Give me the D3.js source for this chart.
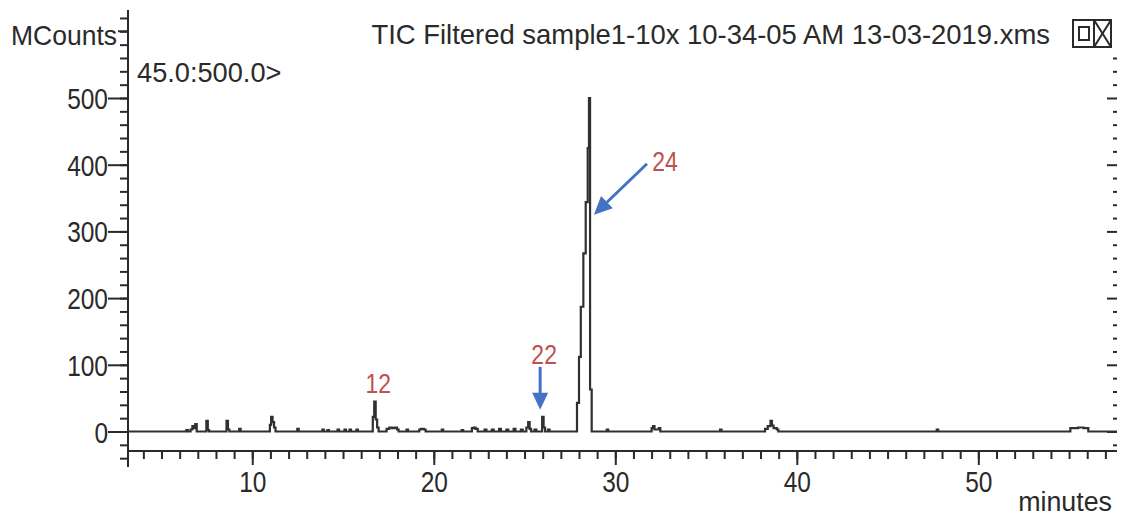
<!DOCTYPE html>
<html>
<head>
<meta charset="utf-8">
<script src="https://cdn.jsdelivr.net/npm/d3@7"></script>
<style>
  html, body { margin: 0; padding: 0; background: #ffffff; }
  svg { display: block; font-family: "Liberation Sans", Arial, sans-serif; }
</style>
</head>
<body>
<svg id="chart" width="1123" height="516"></svg>
<script>
// Total ion chromatogram: retention time (minutes) and intensity (MCounts)
const rtMinutes = [
  3.15, 6.37, 6.45, 6.60, 6.70, 6.78, 6.86, 6.94, 7.47, 7.55, 7.62,
  8.58, 8.66, 8.74, 9.28, 9.36, 10.97, 11.04, 11.12, 11.20, 11.28,
  12.48, 12.56, 13.86, 13.94, 14.14, 14.22, 14.70, 14.78, 15.08, 15.16,
  15.36, 15.44, 15.74, 15.82, 16.64, 16.72, 16.80, 16.88, 16.96,
  17.40, 17.55, 17.70, 17.85, 17.98, 18.06, 18.50, 18.58,
  19.20, 19.30, 19.45, 19.55, 20.44, 20.52, 21.54, 21.62,
  22.10, 22.20, 22.30, 22.42, 22.80, 22.90, 23.20, 23.30, 23.60, 23.70,
  24.00, 24.10, 24.40, 24.50, 24.80, 24.90, 25.10, 25.20, 25.28, 25.36,
  25.55, 25.65, 25.97, 26.05, 26.13, 26.30, 26.38,
  27.89, 28.00, 28.10, 28.24, 28.37, 28.48, 28.55, 28.61, 28.70,
  29.53, 29.61, 32.00, 32.08, 32.16, 32.40, 32.48, 35.77, 35.85,
  38.25, 38.40, 38.55, 38.63, 38.72, 38.90, 38.98, 47.71, 47.79,
  55.07, 55.50, 55.80, 56.06, 57.64
];
const mcounts = [
  0, 2, 0, 3, 8, 5, 11, 0, 16, 2, 0,
  16, 3, 0, 4, 0, 10, 22, 14, 6, 0,
  4, 0, 3, 0, 2, 0, 3, 0, 3, 0,
  3, 0, 3, 0, 22, 45, 18, 6, 0,
  4, 6, 5, 6, 3, 0, 3, 0,
  3, 4, 3, 0, 3, 0, 2, 0,
  5, 6, 4, 0, 3, 0, 3, 0, 4, 0,
  3, 0, 4, 0, 3, 0, 6, 14, 4, 0,
  3, 0, 22, 6, 0, 3, 0,
  43, 112, 187, 267, 344, 425, 500, 63, 0,
  3, 0, 5, 8, 3, 5, 0, 3, 0,
  4, 8, 16, 9, 5, 3, 0, 3, 0,
  5, 6, 5, 0, 0
];

// Axis ticks
const yMajorTicks = [0, 100, 200, 300, 400, 500];
const yMinorTicks = d3.range(-40, 621, 20);
const yRightTicks = d3.range(-20, 561, 20);
const xMajorTicks = [10, 20, 30, 40, 50];
const xMinorTicks = d3.range(4, 58, 1);

// Text
const titleText = "TIC Filtered sample1-10x 10-34-05 AM 13-03-2019.xms";
const yUnitLabel = "MCounts";
const xUnitLabel = "minutes";
const massRange = "45.0:500.0>";

// Annotated peaks
const peakIds = ["12", "22", "24"];
const peakRt = [16.72, 25.97, 28.55];
const peakLevel = [45, 22, 325];

const svg = d3.select("#chart");
const ink = "#2a2a2a";
const red = "#c0504d";
const blue = "#4472c4";

const x = d3.scaleLinear().domain([3.154, 57.64]).range([128, 1117]);
const y = d3.scaleLinear().domain([0, 500]).range([431.5, 98]);

// Left vertical axis line
svg.append("line")
  .attr("x1", x.range()[0]).attr("x2", x.range()[0])
  .attr("y1", 10).attr("y2", 467)
  .attr("stroke", ink).attr("stroke-width", 2);

// Left axis: minor ticks
const leftMinor = svg.append("g")
  .attr("transform", `translate(${x.range()[0]},0)`)
  .call(d3.axisLeft(y).tickValues(yMinorTicks).tickSize(8).tickFormat(""));
leftMinor.select(".domain").remove();
leftMinor.selectAll("line").attr("stroke", ink).attr("stroke-width", 2);

// Left axis: major ticks with labels
const leftMajor = svg.append("g")
  .attr("transform", `translate(${x.range()[0]},0)`)
  .call(d3.axisLeft(y).tickValues(yMajorTicks).tickSize(20).tickPadding(0));
leftMajor.select(".domain").remove();
leftMajor.selectAll("line").attr("stroke", ink).attr("stroke-width", 2);
leftMajor.selectAll("text")
  .attr("x", null).attr("dy", null)
  .attr("transform", "translate(-20,10.5) scale(1,1.2)")
  .attr("text-anchor", "end")
  .attr("fill", ink)
  .style("font-size", "24.5px")
  .style("font-family", "Liberation Sans, Arial, sans-serif");

// Short unlabeled tick beside the unit label
svg.append("line")
  .attr("x1", x.range()[0] - 10).attr("x2", x.range()[0])
  .attr("y1", y(600)).attr("y2", y(600))
  .attr("stroke", ink).attr("stroke-width", 2);

// Right axis ticks (no line)
const rightTicks = svg.append("g")
  .attr("transform", `translate(${x.range()[1]},0)`)
  .call(d3.axisLeft(y).tickValues(yRightTicks)
    .tickSize(0).tickFormat(""));
rightTicks.select(".domain").remove();
rightTicks.selectAll(".tick").append("line")
  .attr("x1", d => (d % 100 === 0 ? -10 : -4)).attr("x2", 0)
  .attr("stroke", ink).attr("stroke-width", 2);

// Bottom axis
const xAxisY = 451;
svg.append("line")
  .attr("x1", x.range()[0]).attr("x2", x.range()[1])
  .attr("y1", xAxisY).attr("y2", xAxisY)
  .attr("stroke", ink).attr("stroke-width", 2);

const bottomMinor = svg.append("g")
  .attr("transform", `translate(0,${xAxisY})`)
  .call(d3.axisBottom(x).tickValues(xMinorTicks).tickSize(8).tickFormat(""));
bottomMinor.select(".domain").remove();
bottomMinor.selectAll("line").attr("stroke", ink).attr("stroke-width", 2);

const bottomMajor = svg.append("g")
  .attr("transform", `translate(0,${xAxisY})`)
  .call(d3.axisBottom(x).tickValues(xMajorTicks).tickSize(14).tickPadding(0));
bottomMajor.select(".domain").remove();
bottomMajor.selectAll("line").attr("stroke", ink).attr("stroke-width", 2);
bottomMajor.selectAll("text")
  .attr("y", null).attr("dy", null)
  .attr("transform", "translate(0,41) scale(1,1.2)")
  .attr("text-anchor", "middle")
  .attr("fill", ink)
  .style("font-size", "24.5px")
  .style("font-family", "Liberation Sans, Arial, sans-serif");

// Chromatogram trace
const trace = rtMinutes.map((t, i) => [t, mcounts[i]]);
svg.append("path")
  .datum(trace)
  .attr("fill", "none")
  .attr("stroke", "#303030")
  .attr("stroke-width", 2.2)
  .attr("stroke-linejoin", "miter")
  .attr("d", d3.line().x(d => x(d[0])).y(d => y(d[1])).curve(d3.curveStepAfter));

// Header texts
svg.append("text")
  .attr("x", 1050).attr("y", 43.5)
  .attr("text-anchor", "end")
  .attr("fill", ink)
  .style("font-size", "27.45px")
  .text(titleText);

svg.append("text")
  .attr("transform", "translate(11,45) scale(1,1.05)")
  .attr("fill", ink)
  .style("font-size", "26.5px")
  .text(yUnitLabel);

svg.append("text")
  .attr("transform", "translate(137,81.5) scale(1,1.03)")
  .attr("fill", ink)
  .style("font-size", "27.2px")
  .text(massRange);

svg.append("text")
  .attr("x", 1112).attr("y", 511)
  .attr("text-anchor", "end")
  .attr("fill", ink)
  .style("font-size", "26.8px")
  .text(xUnitLabel);

// Window control icon
const icon = svg.append("g").attr("fill", "none").attr("stroke", ink).attr("stroke-width", 2);
icon.append("rect").attr("x", 1073).attr("y", 20).attr("width", 38).attr("height", 27);
icon.append("line").attr("x1", 1094).attr("x2", 1094).attr("y1", 20).attr("y2", 47);
icon.append("rect").attr("x", 1079).attr("y", 27).attr("width", 10).attr("height", 13);
icon.append("line").attr("x1", 1094).attr("y1", 20).attr("x2", 1111).attr("y2", 47);
icon.append("line").attr("x1", 1111).attr("y1", 20).attr("x2", 1094).attr("y2", 47);

// Peak annotations
const labelText = (px, baseline, id) => svg.append("text")
  .attr("transform", `translate(${px},${baseline}) scale(1,1.2)`)
  .attr("text-anchor", "middle")
  .attr("fill", red)
  .style("font-size", "23px")
  .text(id);

// Peak 12: label only
{
  const px = x(peakRt[0]), py = y(peakLevel[0]);
  labelText(px + 4, py - 8.5, peakIds[0]);
}

// Peak 22: label with a downward arrow
{
  const px = x(peakRt[1]) - 2, py = y(peakLevel[1]);
  labelText(px + 4, py - 53, peakIds[1]);
  const tipY = py - 7;
  svg.append("line")
    .attr("x1", px).attr("x2", px)
    .attr("y1", tipY - 43).attr("y2", tipY - 15)
    .attr("stroke", blue).attr("stroke-width", 3);
  svg.append("path")
    .attr("d", `M${px - 8},${tipY - 17} L${px + 8},${tipY - 17} L${px},${tipY} Z`)
    .attr("fill", blue);
}

// Peak 24: label with a diagonal arrow pointing at the peak flank
{
  const tx = x(peakRt[2]) + 5, ty = y(peakLevel[2]);
  const sx = tx + 53, sy = ty - 51;
  labelText(sx + 18, sy + 7, peakIds[2]);
  const ang = Math.atan2(ty - sy, tx - sx);
  const headLen = 18, headHalf = 8.5;
  const bx = tx - headLen * Math.cos(ang), by = ty - headLen * Math.sin(ang);
  svg.append("line")
    .attr("x1", sx).attr("y1", sy).attr("x2", bx).attr("y2", by)
    .attr("stroke", blue).attr("stroke-width", 3);
  const nx = -Math.sin(ang), ny = Math.cos(ang);
  svg.append("path")
    .attr("d", `M${bx + nx * headHalf},${by + ny * headHalf} L${bx - nx * headHalf},${by - ny * headHalf} L${tx},${ty} Z`)
    .attr("fill", blue);
}
</script>
</body>
</html>
